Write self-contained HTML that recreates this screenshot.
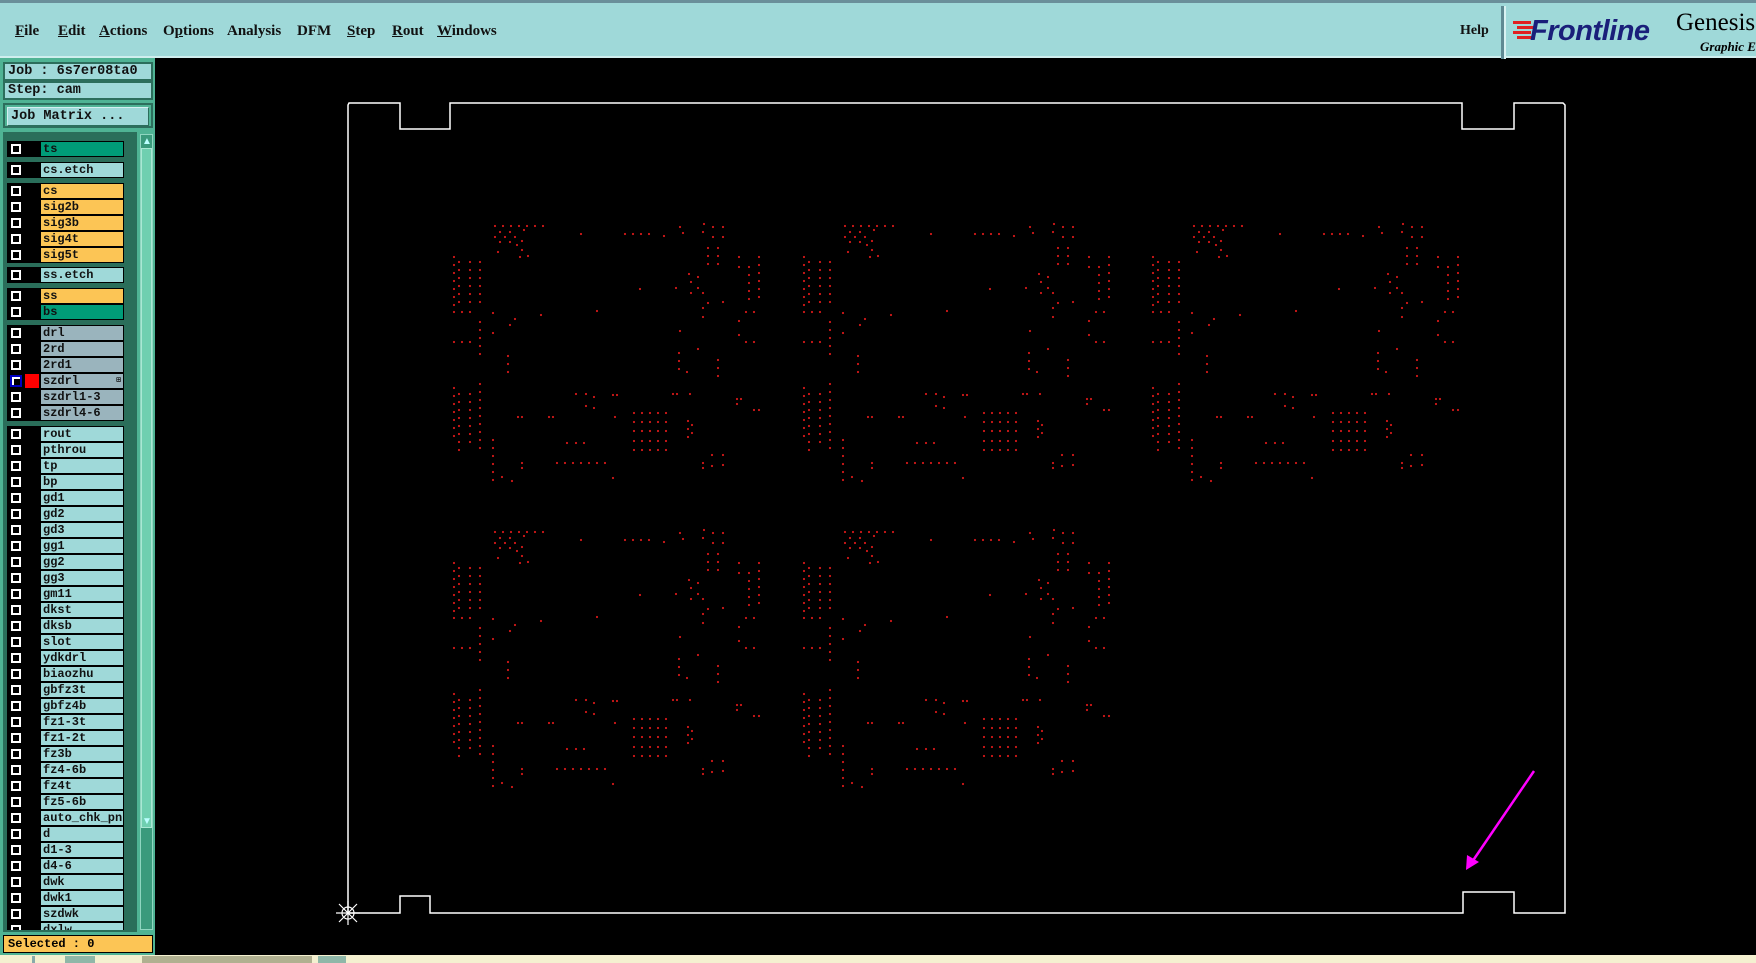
<!DOCTYPE html>
<html><head><meta charset="utf-8"><style>
*{margin:0;padding:0;box-sizing:border-box}
body{width:1756px;height:963px;background:#000;position:relative;overflow:hidden;font-family:"Liberation Serif",serif}
.menu{position:absolute;left:0;top:0;width:1756px;height:58px;background:#9fd9d9;border-top:3px solid #6a8f9a;border-bottom:2px solid #cfeeee}
.mi{position:absolute;top:20px;font-size:15px;font-weight:bold;color:#111}
.mi u{text-decoration:underline}
.panel{position:absolute;left:0;top:58px;width:155px;height:897px;background:#4fb394}
.box{position:absolute;left:3px;width:150px;background:#9fd9d9;border:2px solid #2c6e5c;font-family:"Liberation Mono",monospace;font-weight:bold;font-size:13.5px;padding-left:3px;color:#111;line-height:15px}
.row{position:absolute;left:7px;width:117px;height:16px;background:#000}
.cb{position:absolute;left:3px;top:2px;width:12px;height:12px;background:#fff;border:1px solid #000}
.cb::after{content:"";position:absolute;left:2px;top:2px;width:6px;height:6px;background:#000}
.cb i{display:none}
.lb{position:absolute;left:34px;top:1px;width:82px;height:14px;font-family:"Liberation Mono",monospace;font-weight:bold;font-size:12px;line-height:14px;padding-left:2px;color:#111;overflow:hidden;white-space:nowrap}
.c{background:#9fd9d9}.o{background:#fcc555}.g{background:#009c78}.s{background:#9ab4bd}
</style></head><body>
<div class="menu">
<span class="mi" style="left:15px"><u>F</u>ile</span>
<span class="mi" style="left:58px"><u>E</u>dit</span>
<span class="mi" style="left:99px"><u>A</u>ctions</span>
<span class="mi" style="left:163px">O<u>p</u>tions</span>
<span class="mi" style="left:227px">Analysis</span>
<span class="mi" style="left:297px">DFM</span>
<span class="mi" style="left:347px"><u>S</u>tep</span>
<span class="mi" style="left:392px"><u>R</u>out</span>
<span class="mi" style="left:437px"><u>W</u>indows</span>
<span class="mi" style="left:1460px;font-size:14px">Help</span>
<div style="position:absolute;left:1501px;top:3px;width:3px;height:53px;background:#5f8a93"></div>
<div style="position:absolute;left:1504px;top:3px;width:2px;height:53px;background:#d8f2f2"></div>
<div style="position:absolute;left:1513px;top:18px;width:18px;height:3px;background:#e02020;box-shadow:4px 5px 0 #e02020,0 10px 0 #e02020,4px 15px 0 #e02020"></div>
<span style="position:absolute;left:1530px;top:12px;font-family:'Liberation Sans',sans-serif;font-style:italic;font-weight:bold;font-size:29px;color:#1a1f7a;letter-spacing:-0.5px">Frontline</span>
<span style="position:absolute;left:1676px;top:6px;font-size:25px;color:#000">Genesis</span>
<span style="position:absolute;left:1700px;top:36px;font-size:13px;font-style:italic;font-weight:bold;color:#000">Graphic E</span>
</div>
<div class="panel">
<div class="box" style="top:4px;height:19px">Job : 6s7er08ta0</div>
<div class="box" style="top:23px;height:19px">Step: cam</div>
<div class="box" style="top:45px;height:25px;background:#4fb394;padding:2px 2px"><div style="background:#9fd9d9;height:19px;border:1px solid #d5f0f0;border-right-color:#2c6e5c;border-bottom-color:#2c6e5c;padding-left:3px;line-height:17px">Job Matrix ...</div></div>
<div style="position:absolute;left:3px;top:74px;width:134px;height:800px;background:#2a6e5a"></div>
<div style="position:absolute;left:140px;top:76px;width:13px;height:796px;background:#3a9a7c;border:1px solid #8fd6c0"></div>
<div style="position:absolute;left:141px;top:90px;width:11px;height:680px;background:#6fcfb0;border:1px solid #a9e8d4"></div>
<div style="position:absolute;left:142px;top:78px;color:#bff;font-size:10px">▲</div>
<div style="position:absolute;left:142px;top:758px;color:#bff;font-size:10px">▼</div>
<div style="position:absolute;left:3px;top:877px;width:150px;height:18px;background:#fcc555;border:1px solid #000;font-family:'Liberation Mono',monospace;font-weight:bold;font-size:12px;padding-left:4px;line-height:16px">Selected : 0</div>
</div>
<div style="position:absolute;left:0;top:955px;width:1756px;height:8px;background:#f4f0d0"></div>
<div style="position:absolute;left:32px;top:956px;width:3px;height:7px;background:#8aa"></div>
<div style="position:absolute;left:65px;top:956px;width:30px;height:7px;background:#8fb7a8"></div>
<div style="position:absolute;left:142px;top:956px;width:170px;height:7px;background:#b0b090"></div>
<div style="position:absolute;left:318px;top:956px;width:28px;height:7px;background:#8fb7a8"></div>
<div id="rows"></div>

<div class="row" style="top:141px"><div class="cb"></div><div class="lb g">ts</div></div>
<div class="row" style="top:162px"><div class="cb"></div><div class="lb c">cs.etch</div></div>
<div class="row" style="top:183px"><div class="cb"></div><div class="lb o">cs</div></div>
<div class="row" style="top:199px"><div class="cb"></div><div class="lb o">sig2b</div></div>
<div class="row" style="top:215px"><div class="cb"></div><div class="lb o">sig3b</div></div>
<div class="row" style="top:231px"><div class="cb"></div><div class="lb o">sig4t</div></div>
<div class="row" style="top:247px"><div class="cb"></div><div class="lb o">sig5t</div></div>
<div class="row" style="top:267px"><div class="cb"></div><div class="lb c">ss.etch</div></div>
<div class="row" style="top:288px"><div class="cb"></div><div class="lb o">ss</div></div>
<div class="row" style="top:304px"><div class="cb"></div><div class="lb g">bs</div></div>
<div class="row" style="top:325px"><div class="cb"></div><div class="lb s">drl</div></div>
<div class="row" style="top:341px"><div class="cb"></div><div class="lb s">2rd</div></div>
<div class="row" style="top:357px"><div class="cb"></div><div class="lb s">2rd1</div></div>
<div class="row" style="top:373px"><div class="cb" style="border:2px solid #0000c0"></div><div style="position:absolute;left:18px;top:1px;width:14px;height:14px;background:#f00"></div><div class="lb s" style="background:#9ab4bd">szdrl<span style="float:right;font-size:8px;margin-right:2px">⊞</span></div></div>
<div class="row" style="top:389px"><div class="cb"></div><div class="lb s">szdrl1-3</div></div>
<div class="row" style="top:405px"><div class="cb"></div><div class="lb s">szdrl4-6</div></div>
<div class="row" style="top:426px"><div class="cb"></div><div class="lb c">rout</div></div>
<div class="row" style="top:442px"><div class="cb"></div><div class="lb c">pthrou</div></div>
<div class="row" style="top:458px"><div class="cb"></div><div class="lb c">tp</div></div>
<div class="row" style="top:474px"><div class="cb"></div><div class="lb c">bp</div></div>
<div class="row" style="top:490px"><div class="cb"></div><div class="lb c">gd1</div></div>
<div class="row" style="top:506px"><div class="cb"></div><div class="lb c">gd2</div></div>
<div class="row" style="top:522px"><div class="cb"></div><div class="lb c">gd3</div></div>
<div class="row" style="top:538px"><div class="cb"></div><div class="lb c">gg1</div></div>
<div class="row" style="top:554px"><div class="cb"></div><div class="lb c">gg2</div></div>
<div class="row" style="top:570px"><div class="cb"></div><div class="lb c">gg3</div></div>
<div class="row" style="top:586px"><div class="cb"></div><div class="lb c">gm11</div></div>
<div class="row" style="top:602px"><div class="cb"></div><div class="lb c">dkst</div></div>
<div class="row" style="top:618px"><div class="cb"></div><div class="lb c">dksb</div></div>
<div class="row" style="top:634px"><div class="cb"></div><div class="lb c">slot</div></div>
<div class="row" style="top:650px"><div class="cb"></div><div class="lb c">ydkdrl</div></div>
<div class="row" style="top:666px"><div class="cb"></div><div class="lb c">biaozhu</div></div>
<div class="row" style="top:682px"><div class="cb"></div><div class="lb c">gbfz3t</div></div>
<div class="row" style="top:698px"><div class="cb"></div><div class="lb c">gbfz4b</div></div>
<div class="row" style="top:714px"><div class="cb"></div><div class="lb c">fz1-3t</div></div>
<div class="row" style="top:730px"><div class="cb"></div><div class="lb c">fz1-2t</div></div>
<div class="row" style="top:746px"><div class="cb"></div><div class="lb c">fz3b</div></div>
<div class="row" style="top:762px"><div class="cb"></div><div class="lb c">fz4-6b</div></div>
<div class="row" style="top:778px"><div class="cb"></div><div class="lb c">fz4t</div></div>
<div class="row" style="top:794px"><div class="cb"></div><div class="lb c">fz5-6b</div></div>
<div class="row" style="top:810px"><div class="cb"></div><div class="lb c">auto_chk_pnl</div></div>
<div class="row" style="top:826px"><div class="cb"></div><div class="lb c">d</div></div>
<div class="row" style="top:842px"><div class="cb"></div><div class="lb c">d1-3</div></div>
<div class="row" style="top:858px"><div class="cb"></div><div class="lb c">d4-6</div></div>
<div class="row" style="top:874px"><div class="cb"></div><div class="lb c">dwk</div></div>
<div class="row" style="top:890px"><div class="cb"></div><div class="lb c">dwk1</div></div>
<div class="row" style="top:906px"><div class="cb"></div><div class="lb c">szdwk</div></div>
<div class="row" style="top:922px;height:8px;overflow:hidden"><div class="cb"></div><div class="lb c">dxlw</div></div>

<svg style="position:absolute;left:0;top:0" width="1756" height="963">
<defs>
<g id="blk" stroke="#d01818" stroke-width="2.2" stroke-linecap="round" fill="none">
<path stroke-dasharray="0 8" d="M55 16H110M306 102H322M306 132H322M14 102H31M14 132H31M185 24H212M194 203H232M194 212H232M194 221H232M194 231H232M194 240H232M117 253H166M14 47V100M19 52V96M30 52V96M40 52V96M40 112V146M14 178V230M19 184V246M30 184V236M40 174V246M53 230V272M68 146V170M319 47V90M309 57V90M268 38V61M278 38V61M278 150V173M239 143V163"/>
<path d="M60 22h0M70 22h0M55 27h0M65 27h0M75 27h0M60 32h0M70 32h0M77 35h0M82 31h0M82 40h0M58 42h0M80 47h0M88 46h0M84 20h0M141 24h0M224 26h0M240 17h0M243 23h0M264 14h0M263 22h0M273 17h0M283 17h0M273 27h0M283 27h0M299 47h0M299 57h0M299 111h0M299 125h0M249 64h0M258 67h0M251 72h0M258 78h0M251 83h0M263 83h0M268 93h0M283 92h0M263 98h0M263 107h0M240 121h0M258 139h0M247 162h0M200 79h0M236 78h0M157 101h0M101 105h0M75 109h0M70 115h0M53 103h0M53 123h0M62 267h0M72 271h0M82 253h0M82 258h0M78 207h0M82 207h0M109 207h0M113 207h0M136 184h0M146 184h0M154 187h0M146 196h0M154 198h0M173 185h0M177 185h0M175 207h0M127 233h0M136 233h0M144 233h0M173 268h0M233 184h0M237 184h0M250 184h0M248 211h0M252 215h0M248 219h0M252 223h0M248 227h0M272 245h0M283 245h0M263 253h0M263 258h0M272 256h0M283 255h0M297 189h0M301 189h0M297 194h0M314 200h0M319 200h0"/>
</g>
</defs>
<use href="#blk" x="440" y="210"/>
<use href="#blk" x="790" y="210"/>
<use href="#blk" x="1139" y="210"/>
<use href="#blk" x="440" y="516"/>
<use href="#blk" x="790" y="516"/>
<path d="M349 103H400V129H450V103H1462V129H1514V103H1563L1565 105V913H1514V892H1463V913H430V896H400V913H348V105Z" stroke="#fff" stroke-width="1.5" fill="none"/>
<g stroke="#fff" stroke-width="1.2" fill="none"><circle cx="348" cy="913" r="6"/><path d="M339 904L357 922M357 904L339 922M348 901V925M336 913H360"/></g>
<g stroke="#ff00ff" stroke-width="2.5"><path d="M1534 771L1472 862"/></g>
<path d="M1466 870L1467 855L1479 862Z" fill="#ff00ff"/>
</svg>
</body></html>
